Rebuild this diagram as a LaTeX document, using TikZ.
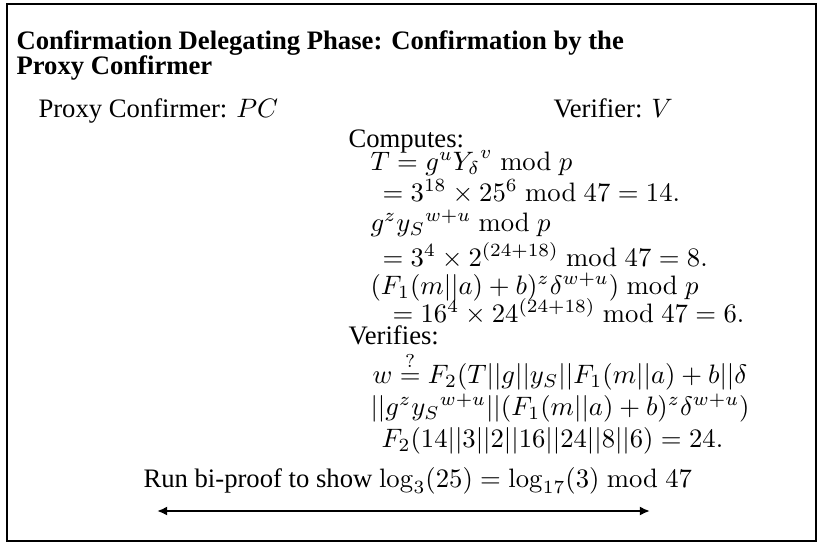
\documentclass[tikz,border=0pt]{standalone}
\usepackage[no-math]{fontspec}
\setmainfont{Liberation Serif}
\usetikzlibrary{arrows.meta}
\begin{document}
\begin{tikzpicture}[x=0.375pt,y=-0.375pt,
  txt/.style={anchor=base west,inner sep=0pt,font=\fontsize{10}{12}\selectfont},
  ttl/.style={anchor=base west,inner sep=0pt,font=\fontsize{10}{12}\selectfont\bfseries},
  frame/.style={line width=1.1pt},
  arr/.style={line width=1.1pt,{Latex[length=3.8pt,width=3.4pt]}-{Latex[length=3.8pt,width=3.4pt]}}]
\useasboundingbox (0,0) rectangle (819,544);
\draw[frame] (7,4) rectangle (816,541);
\node[ttl] (t1) at (16,49) {Confirmation Delegating Phase: Confirmation by the};
\node[ttl] (t2) at (16,74) {Proxy Confirmer};
\node[txt] (pc) at (38,117) {Proxy Confirmer: $PC$};
\node[txt] (v) at (553,117) {Verifier: $V$};
\node[txt] (c0) at (348,147) {Computes:};
\node[txt] (c1) at (370,170) {$T = g^u {Y_\delta}^v \bmod p$};
\node[txt] (c2) at (382,201) {$= 3^{18} \times 25^6 \bmod 47 = 14.$};
\node[txt] (c3) at (370,231) {$g^z {y_S}^{w+u} \bmod p$};
\node[txt] (c4) at (382,266) {$= 3^4 \times 2^{(24+18)} \bmod 47 = 8.$};
\node[txt] (c5) at (370,294) {$(F_1(m||a)+b)^z\delta^{w+u}) \bmod p$};
\node[txt] (c6) at (392,322) {$= 16^4 \times 24^{(24+18)} \bmod 47 = 6.$};
\node[txt] (v0) at (348,344) {Verifies:};
\node[txt] (v1) at (372,383) {$w \stackrel{?}{=} F_2(T||g||y_S||F_1(m||a)+b||\delta$};
\node[txt] (v2) at (370,415) {$||g^z {y_S}^{w+u}||(F_1(m||a)+b)^z\delta^{w+u})$};
\node[txt] (v3) at (381,447) {$F_2(14||3||2||16||24||8||6) = 24.$};
\node[txt] (run) at (143,487) {Run bi-proof to show $\log_3(25) = \log_{17}(3) \bmod 47$};
\coordinate (a1) at (157,511);
\coordinate (a2) at (650,511);
\draw[arr] (a1) -- (a2);
\end{tikzpicture}
\end{document}
